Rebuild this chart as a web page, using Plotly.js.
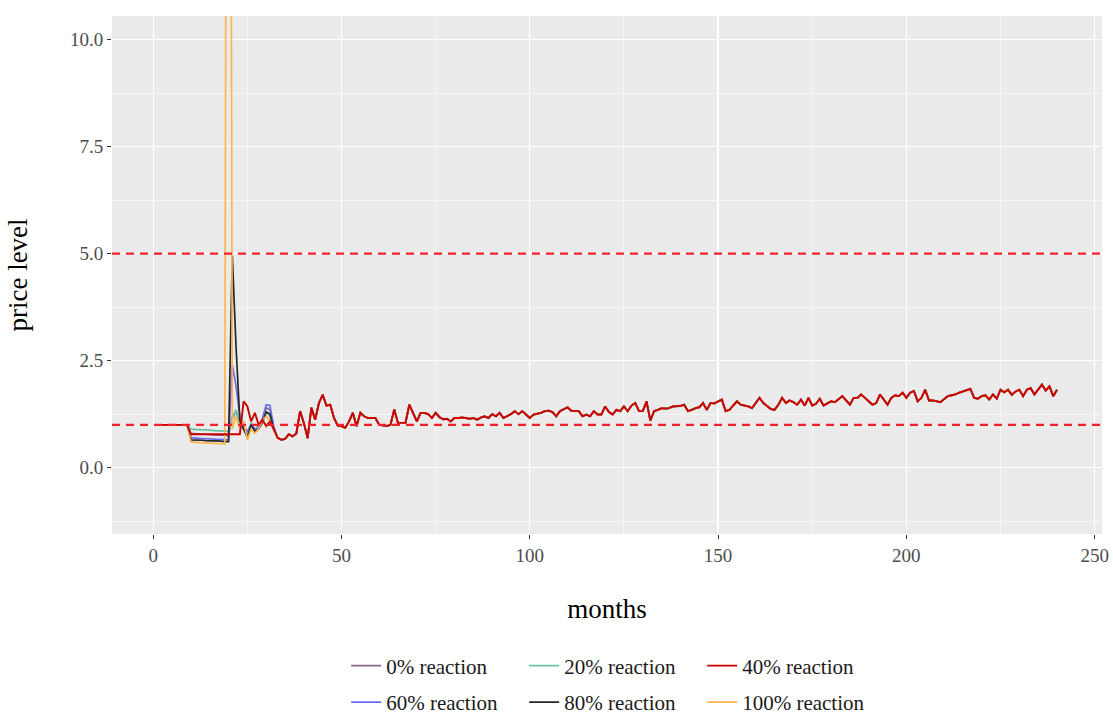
<!DOCTYPE html>
<html>
<head>
<meta charset="utf-8">
<script src="https://cdn.plot.ly/plotly-3.0.1.min.js"></script>
<style>html,body{margin:0;padding:0;background:#fff;}#chart{width:1113px;height:718px;}</style>
</head>
<body>
<div id="chart"></div>
<script>
// ---------------- data ----------------
const seriesNames = ["0% reaction", "20% reaction", "40% reaction", "60% reaction", "80% reaction", "100% reaction"];
const thresholds = [1.0, 5.0];
const xTickVals = [0, 50, 100, 150, 200, 250];
const xTickText = ["0", "50", "100", "150", "200", "250"];
const yTickVals = [0, 2.5, 5, 7.5, 10];
const yTickText = ["0.0", "2.5", "5.0", "7.5", "10.0"];

// months 1-9 (all series)
const baseline = [1.00, 1.00, 1.00, 1.00, 1.00, 1.00, 1.00, 1.00, 1.00];

// months 10-33 (series differ)
const seg0 = [0.80, 0.79, 0.79, 0.78, 0.78, 0.77, 0.77, 0.76, 0.76, 0.75, 0.75,
              1.20, 1.30, 1.05, 0.95, 0.85, 1.00, 0.90, 0.95, 1.10, 1.40, 1.35, 0.95, 0.70];
const seg20 = [0.90, 0.89, 0.89, 0.88, 0.88, 0.87, 0.87, 0.86, 0.86, 0.85, 0.85,
               1.10, 1.35, 1.00, 0.90, 0.75, 1.05, 0.85, 1.00, 1.05, 1.30, 1.20, 0.90, 0.70];
const seg40 = [0.78, 0.78, 0.78, 0.78, 0.78, 0.78, 0.78, 0.78, 0.78, 0.78, 0.78,
               0.78, 0.78, 0.78, 1.55, 1.43, 1.08, 1.28, 1.00, 1.12, 0.97, 1.08, 0.90, 0.70];
const seg60 = [0.70, 0.69, 0.69, 0.68, 0.68, 0.67, 0.67, 0.66, 0.66, 0.65, 0.65,
               2.40, 1.90, 1.20, 0.95, 0.80, 1.00, 0.90, 0.95, 1.15, 1.47, 1.45, 0.95, 0.70];
const seg80 = [0.65, 0.65, 0.64, 0.64, 0.63, 0.63, 0.62, 0.62, 0.62, 0.61, 0.61,
               4.95, 2.80, 1.10, 0.90, 0.70, 1.00, 0.85, 0.90, 1.05, 1.30, 1.25, 0.90, 0.70];
const seg100 = [0.60, 0.59, 0.59, 0.58, 0.58, 0.57, 0.57, 0.56, 0.56, 0.55, 40.0,
                0.90, 1.20, 0.90, 1.10, 0.65, 0.90, 0.80, 0.90, 1.10, 1.20, 1.10, 0.85, 0.70];

// months 34-240 (common path)
const tail = [
  0.65, 0.67, 0.78, 0.73, 0.80, 1.32, 1.04, 0.69, 1.40, 1.12,
  1.51, 1.70, 1.45, 1.47, 1.16, 0.98, 0.97, 0.93, 1.08, 1.28,
  0.97, 1.28, 1.20, 1.16, 1.16, 1.16, 1.00, 0.98, 0.97, 1.00,
  1.36, 1.04, 1.04, 1.05, 1.47, 1.28, 1.08, 1.28, 1.28, 1.25,
  1.16, 1.28, 1.18, 1.13, 1.14, 1.08, 1.16, 1.16, 1.17, 1.16,
  1.14, 1.16, 1.12, 1.17, 1.20, 1.16, 1.25, 1.20, 1.28, 1.16,
  1.20, 1.25, 1.32, 1.25, 1.32, 1.25, 1.16, 1.24, 1.26, 1.28,
  1.32, 1.33, 1.30, 1.20, 1.32, 1.36, 1.41, 1.33, 1.33, 1.32,
  1.20, 1.24, 1.20, 1.32, 1.24, 1.24, 1.43, 1.30, 1.24, 1.35,
  1.32, 1.43, 1.32, 1.45, 1.51, 1.32, 1.32, 1.55, 1.10, 1.32,
  1.35, 1.39, 1.38, 1.39, 1.43, 1.43, 1.44, 1.47, 1.32, 1.35,
  1.39, 1.41, 1.51, 1.35, 1.51, 1.50, 1.55, 1.59, 1.32, 1.35,
  1.45, 1.55, 1.47, 1.45, 1.43, 1.39, 1.51, 1.63, 1.51, 1.45,
  1.37, 1.35, 1.47, 1.63, 1.51, 1.57, 1.53, 1.47, 1.59, 1.45,
  1.63, 1.45, 1.49, 1.61, 1.45, 1.50, 1.55, 1.53, 1.59, 1.67,
  1.57, 1.47, 1.63, 1.63, 1.71, 1.63, 1.55, 1.47, 1.51, 1.71,
  1.59, 1.47, 1.63, 1.69, 1.67, 1.75, 1.63, 1.75, 1.79, 1.55,
  1.63, 1.82, 1.57, 1.57, 1.55, 1.53, 1.60, 1.67, 1.69, 1.71,
  1.75, 1.78, 1.80, 1.84, 1.63, 1.61, 1.67, 1.69, 1.59, 1.71,
  1.61, 1.82, 1.76, 1.82, 1.70, 1.78, 1.82, 1.67, 1.82, 1.86,
  1.71, 1.84, 1.94, 1.80, 1.90, 1.67, 1.82
];

const colors = ["#8B668B", "#66C2A5", "#CC0000", "#6B6BF5", "#262626", "#FDB64E"];

// ---------------- build ----------------
const months = [];
for (let m = 1; m <= baseline.length + seg0.length + tail.length; m++) months.push(m);
const segs = [seg0, seg20, seg40, seg60, seg80, seg100];
const legendOf = ["legend", "legend", "legend", "legend2", "legend2", "legend2"];
const drawOrder = [0, 1, 3, 4, 5, 2];

const FONT = "Liberation Serif, Times New Roman, serif";
const traces = drawOrder.map(i => ({
  type: "scatter", mode: "lines",
  x: months, y: baseline.concat(segs[i], tail),
  name: seriesNames[i],
  line: {color: colors[i], width: i === 2 ? 1.9 : 1.7},
  legend: legendOf[i],
  cliponaxis: true
}));

const shapes = thresholds.map(t => ({
  type: "line", xref: "paper", x0: 0, x1: 1, yref: "y", y0: t, y1: t,
  line: {color: "#F5222D", width: 2.2, dash: "8px,6px"}, layer: "above"
}));

const legendCommon = {
  orientation: "h", xanchor: "left", yanchor: "middle", xref: "container", yref: "container",
  font: {family: FONT, size: 21, color: "#1a1a1a"},
  bgcolor: "rgba(0,0,0,0)", itemwidth: 30, entrywidth: 133, tracegroupgap: 0
};

const layout = {
  width: 1113, height: 718,
  margin: {l: 112, r: 11, t: 16, b: 184},
  paper_bgcolor: "#ffffff", plot_bgcolor: "#EBEBEB",
  showlegend: true,
  legend: Object.assign({}, legendCommon, {x: 0.311, y: 0.0724}),
  legend2: Object.assign({}, legendCommon, {x: 0.311, y: 0.0215}),
  xaxis: {
    range: [-10.95, 251.95], tickvals: xTickVals, ticktext: xTickText,
    ticks: "outside", ticklen: 4, tickcolor: "#333333", tickwidth: 1,
    tickfont: {family: FONT, size: 19, color: "#4D4D4D"},
    showgrid: true, gridcolor: "#ffffff", gridwidth: 1.2, zeroline: false, showline: false,
    minor: {dtick: 25, tick0: 0, showgrid: true, gridcolor: "#ffffff", gridwidth: 0.6, ticks: ""},
    title: {text: "months", font: {family: FONT, size: 27, color: "#000"}, standoff: 34}
  },
  yaxis: {
    range: [-1.55, 10.55], tickvals: yTickVals, ticktext: yTickText,
    ticks: "outside", ticklen: 4, tickcolor: "#333333", tickwidth: 1,
    tickfont: {family: FONT, size: 19, color: "#4D4D4D"},
    showgrid: true, gridcolor: "#ffffff", gridwidth: 1.2, zeroline: false, showline: false,
    minor: {dtick: 2.5, tick0: -1.25, showgrid: true, gridcolor: "#ffffff", gridwidth: 0.6, ticks: ""},
    title: {text: "price level", font: {family: FONT, size: 27, color: "#000"}, standoff: 34}
  },
  shapes: shapes
};

Plotly.newPlot("chart", traces, layout, {staticPlot: true, displayModeBar: false});
</script>
</body>
</html>
